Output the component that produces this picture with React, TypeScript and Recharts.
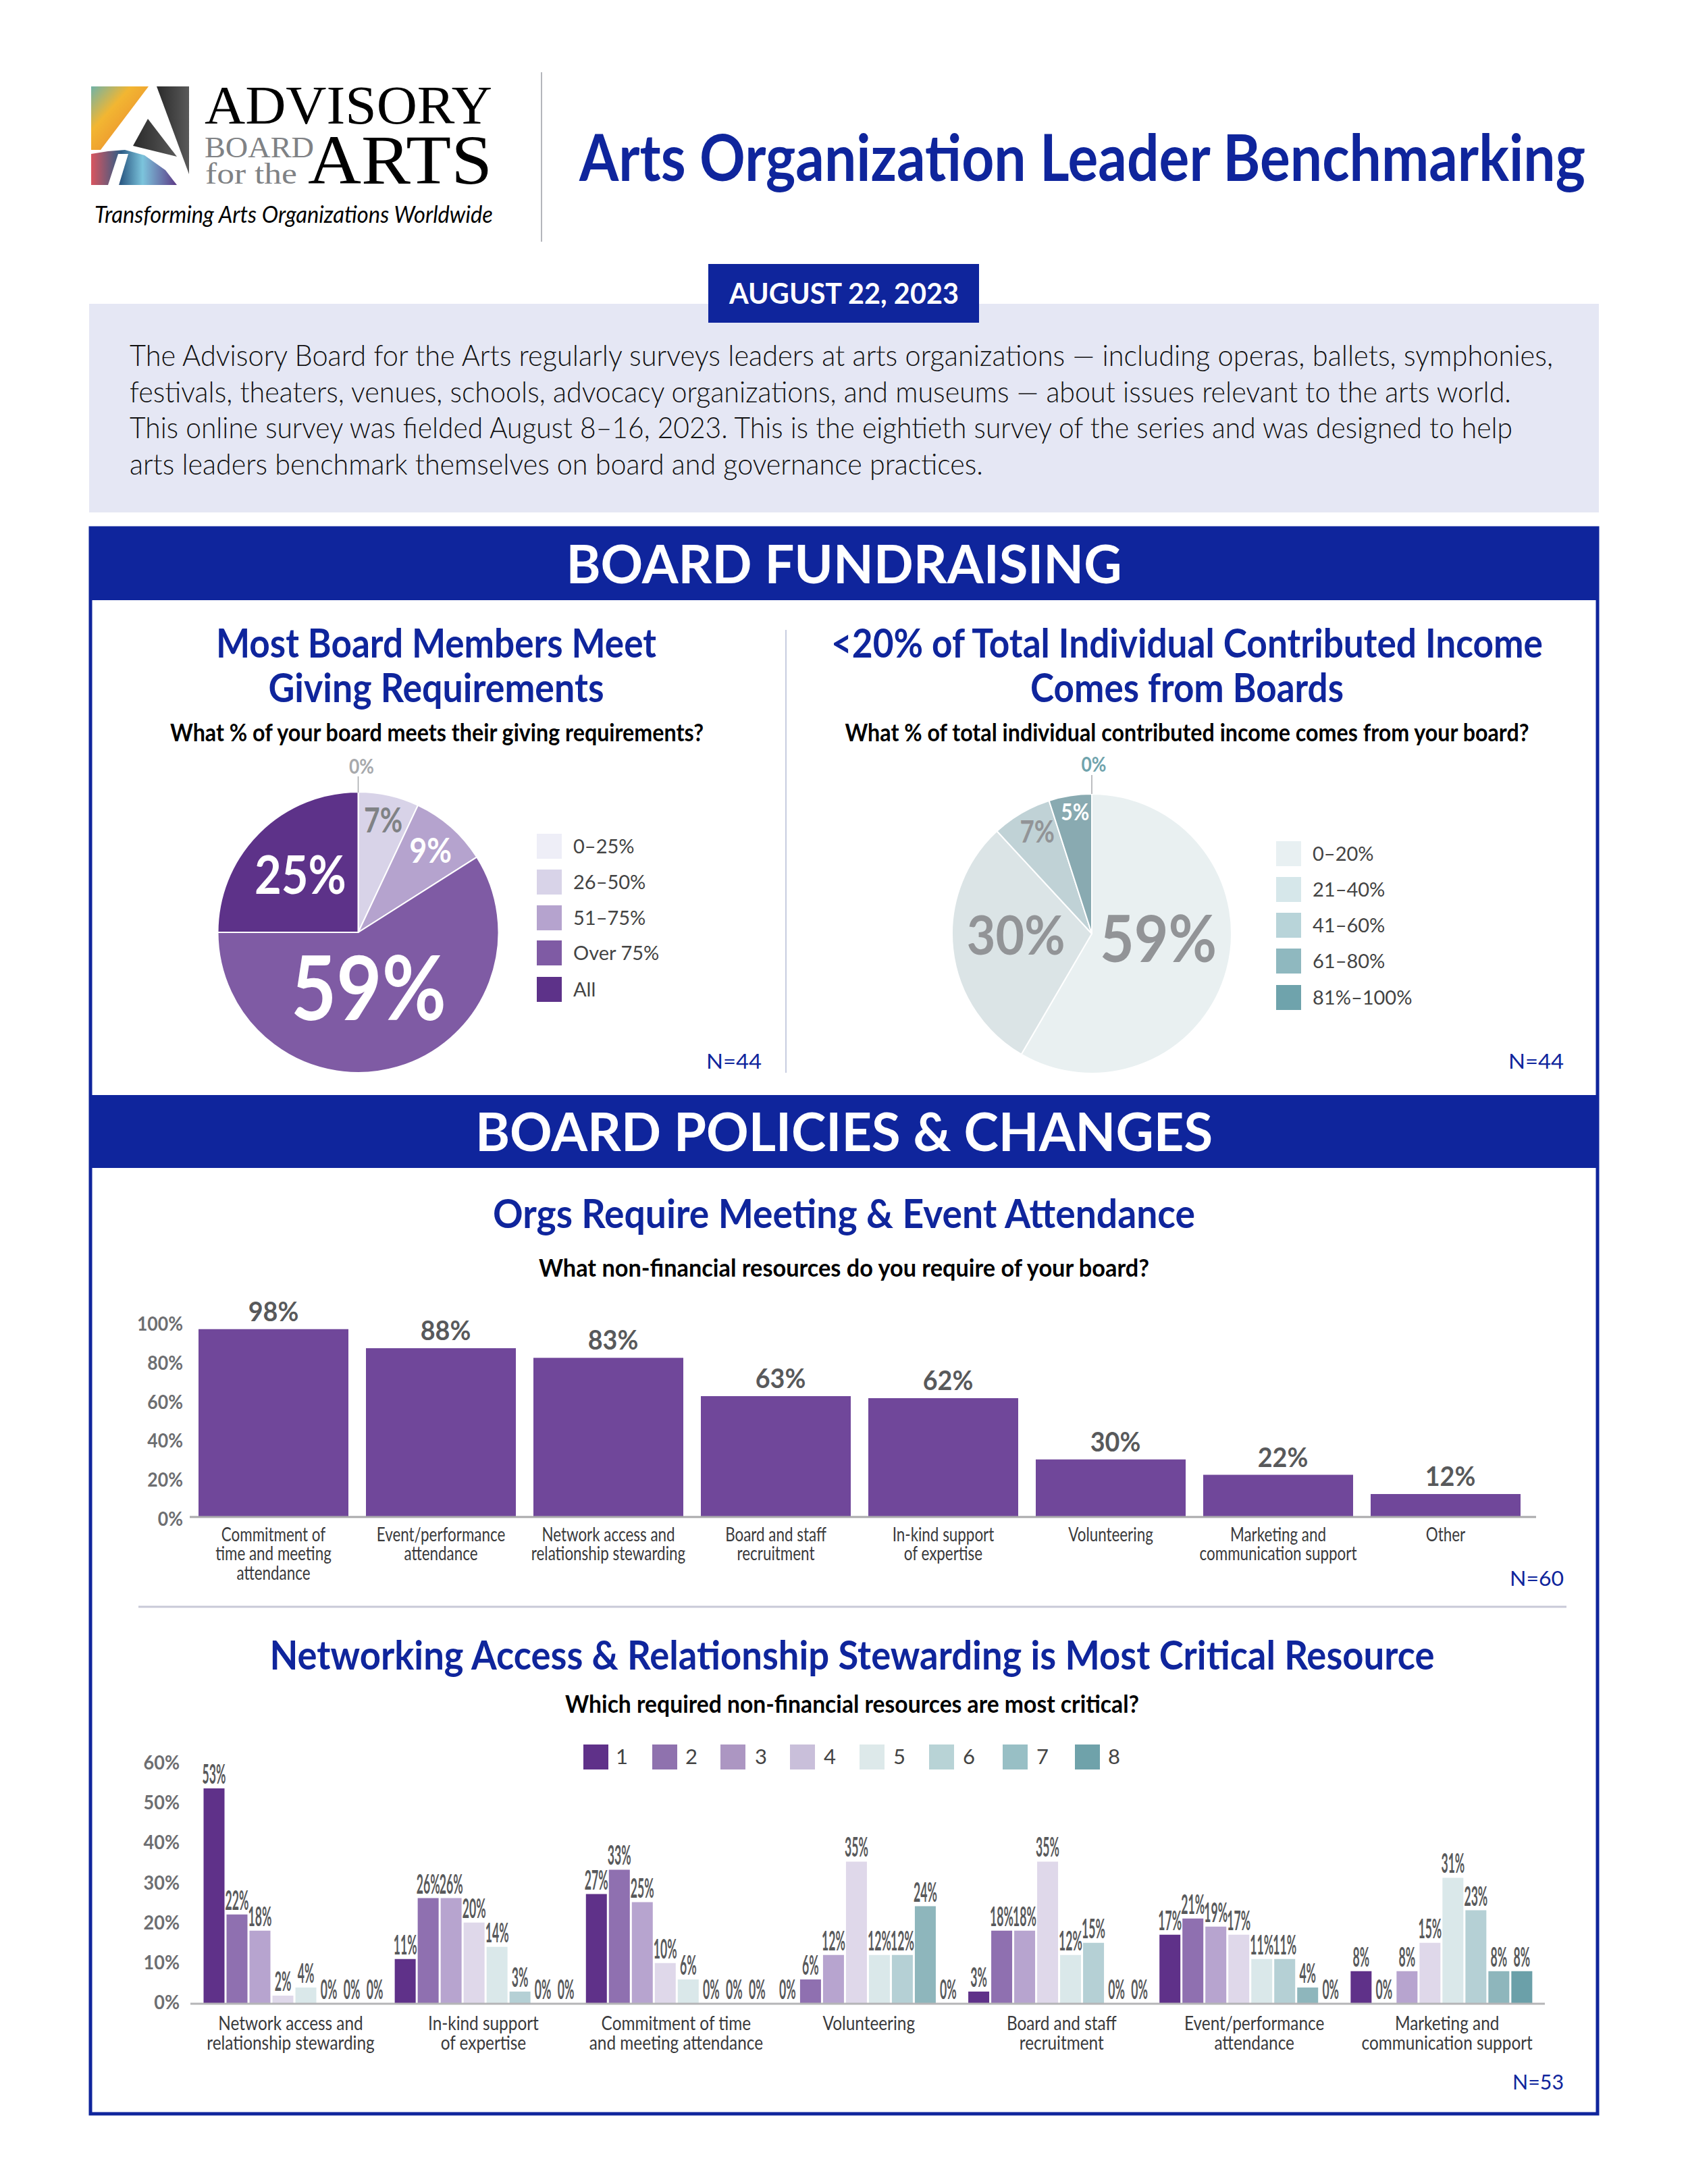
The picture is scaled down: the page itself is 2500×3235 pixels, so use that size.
import React from 'react';
import { BarChart, Bar, XAxis, YAxis, LabelList, PieChart, Pie, Cell } from 'recharts';

const NAVY = '#0f259c';
const FONT = 'Lato, "Open Sans", sans-serif';
const ZERO_BAR = 0.001; // keeps a zero-height bar's "0%" label in the label list

// ---------- data ----------
const givingLabels = ['0–25%', '26–50%', '51–75%', 'Over 75%', 'All'];
const givingValues = [0, 7, 9, 59, 25];
const givingColors = ['#eeeef7', '#d8d3e8', '#b5a3ce', '#7f5ba4', '#5d3289'];

const incomeLabels = ['0–20%', '21–40%', '41–60%', '61–80%', '81%–100%'];
const incomeValues = [59, 30, 7, 5, 0];
const incomeSliceColors = ['#e9f0f1', '#dbe4e6', '#c0d2d6', '#89aab1', '#6fa3ac'];
const incomeLegendColors = ['#e8f0f2', '#d6e7ea', '#b8d4d9', '#8fb8bf', '#6fa3ac'];

const requiredCategories = [
  'Commitment of\ntime and meeting\nattendance',
  'Event/performance\nattendance',
  'Network access and\nrelationship stewarding',
  'Board and staff\nrecruitment',
  'In-kind support\nof expertise',
  'Volunteering',
  'Marketing and\ncommunication support',
  'Other',
];
const requiredValues = [98, 88, 83, 63, 62, 30, 22, 12];
const requiredTicks = [0, 20, 40, 60, 80, 100];

const criticalCategories = [
  'Network access and\nrelationship stewarding',
  'In-kind support\nof expertise',
  'Commitment of time\nand meeting attendance',
  'Volunteering',
  'Board and staff\nrecruitment',
  'Event/performance\nattendance',
  'Marketing and\ncommunication support',
];
const rank1 = [53, 11, 27, 0, 3, 17, 8];
const rank2 = [22, 26, 33, 6, 18, 21, 0];
const rank3 = [18, 26, 25, 12, 18, 19, 8];
const rank4 = [2, 20, 10, 35, 35, 17, 15];
const rank5 = [4, 14, 6, 12, 12, 11, 31];
const rank6 = [0, 3, 0, 12, 15, 11, 23];
const rank7 = [0, 0, 0, 24, 0, 4, 8];
const rank8 = [0, 0, 0, 0, 0, 0, 8];
const ranks = [rank1, rank2, rank3, rank4, rank5, rank6, rank7, rank8];
const rankNames = ['1', '2', '3', '4', '5', '6', '7', '8'];
const rankColors = ['#5f3189', '#8f70b0', '#b7a4cf', '#dfd8ea', '#dae8ea', '#b5d0d5', '#8eb6bc', '#6ba0a9'];
const rankLegendColors = ['#5f3189', '#8f72ae', '#ac96c2', '#c9bfda', '#dde9ea', '#b8d3d6', '#98bfc5', '#6fa2aa'];
const criticalTicks = [0, 10, 20, 30, 40, 50, 60];

const introLines = [
  'The Advisory Board for the Arts regularly surveys leaders at arts organizations — including operas, ballets, symphonies,',
  'festivals, theaters, venues, schools, advocacy organizations, and museums — about issues relevant to the arts world.',
  'This online survey was fielded August 8–16, 2023. This is the eightieth survey of the series and was designed to help',
  'arts leaders benchmark themselves on board and governance practices.',
];

const requiredData = requiredCategories.map((name, i) => ({ name, value: requiredValues[i] }));
const criticalData = criticalCategories.map((name, i) => {
  const row: Record<string, any> = { name };
  rankNames.forEach((r, k) => { row[r] = ranks[k][i] || ZERO_BAR; });
  return row;
});
const givingData = givingLabels.map((name, i) => ({ name, value: givingValues[i] }));
const incomeData = incomeLabels.map((name, i) => ({ name, value: incomeValues[i] }));

// ---------- text helper ----------
const T = ({ x, y, s, w = 400, c = '#000', a = 'start', f = FONT, len, it, children }: any) => (
  <text x={x} y={y} fontSize={s} fontWeight={w} fill={c} textAnchor={a} fontFamily={f}
    fontStyle={it ? 'italic' : 'normal'} textLength={len} lengthAdjust={len ? 'spacingAndGlyphs' : undefined}>
    {children}
  </text>
);

const CatTick = ({ x, y, payload, index, size, lead, sx, first, dxStep = 0, dx0 = 0 }: any) => {
  const lines = String(payload.value).split('\n');
  return (
    <g transform={`translate(${x + dx0 + dxStep * (index || 0)},${y + first})`}>
      {lines.map((l: string, i: number) => (
        <text key={i} transform={`translate(0,${i * lead}) scale(${sx},1)`} textAnchor="middle"
          fontFamily={FONT} fontSize={size} fontWeight={400} fill="#3a3a3c">{l}</text>
      ))}
    </g>
  );
};

const ValTick = ({ x, y, payload, size, sx, dy, slope = 0, right }: any) => (
  <text transform={`translate(${x - right},${y + dy + slope * payload.value}) scale(${sx},1)`} textAnchor="end"
    fontFamily={FONT} fontSize={size} fontWeight={700} fill="#6d6e71">{payload.value}%</text>
);

const BarValue = ({ x, y, width, value, size, sx, gap, dx = 0 }: any) => (
  <text transform={`translate(${x + width / 2 + dx},${y - gap}) scale(${sx},1)`} textAnchor="middle"
    fontFamily={FONT} fontSize={size} fontWeight={700} fill="#58595b">{Math.round(value)}%</text>
);

const RAD = Math.PI / 180;
const PieLabel = ({ cx, cy, midAngle, index, value, cfg }: any) => {
  const c = cfg[index];
  const px = cx + c.r * Math.cos(-midAngle * RAD) + (c.dx || 0);
  const py = cy + c.r * Math.sin(-midAngle * RAD) + (c.dy || 0);
  return (
    <g>
      {c.leader ? <line x1={cx} x2={cx} y1={cy - 207} y2={cy - c.leader} stroke="#a7a9ac" strokeWidth={1.5} /> : null}
      <text transform={`translate(${px},${py + c.s * 0.36}) scale(${c.sx || 0.88},1)`} textAnchor="middle" fontFamily={FONT}
        fontWeight={700} fontSize={c.s} fill={c.c}>{value}%</text>
    </g>
  );
};

const givingCfg = [
  { r: 246, dx: 5, s: 30, c: '#a7a9ac', leader: 231 },
  { r: 170, s: 51, c: '#808285', sx: 0.8 },
  { r: 162, s: 51, c: '#ffffff' },
  { r: 84, dx: -8, dy: 2, s: 132, c: '#ffffff' },
  { r: 121, s: 78, c: '#ffffff' },
];
const incomeCfg = [
  { r: 100, dx: 2, dy: -19, s: 96, c: '#929497', sx: 0.91 },
  { r: 113, dy: -10, s: 80, c: '#929497', sx: 0.92 },
  { r: 170, dx: 5, dy: -5, s: 46, c: '#929497', sx: 0.8 },
  { r: 179, dx: 3, dy: -3, s: 34, c: '#ffffff' },
  { r: 251, dx: 3, s: 30, c: '#6fa3ac', leader: 235 },
];

const Abs = ({ left, top, children }: any) => (
  <div style={{ position: 'absolute', left, top }}>{children}</div>
);

const Legend = ({ x, ys, labels, colors }: any) => (
  <>
    {labels.map((l: string, i: number) => (
      <g key={l}>
        <rect x={x} y={ys[i]} width={37} height={37} fill={colors[i]} />
        <T x={x + 54} y={ys[i] + 29} s={29} w={400} c="#444">{l}</T>
      </g>
    ))}
  </>
);

const Logo = () => (
  <g>
    <defs>
      <linearGradient id="lgA" x1="0" y1="0" x2="1" y2="1">
        <stop offset="0" stopColor="#6fb3a8" />
        <stop offset="0.35" stopColor="#f2b632" />
        <stop offset="1" stopColor="#e8792c" />
      </linearGradient>
      <linearGradient id="lgB" x1="0" y1="0" x2="1" y2="0">
        <stop offset="0" stopColor="#d9555f" />
        <stop offset="0.35" stopColor="#2d5c86" />
        <stop offset="0.6" stopColor="#7cc4dc" />
        <stop offset="1" stopColor="#5c3a86" />
      </linearGradient>
      <linearGradient id="lgC" x1="0" y1="0" x2="1" y2="0">
        <stop offset="0" stopColor="#2a2a2a" />
        <stop offset="1" stopColor="#5a5a5a" />
      </linearGradient>
    </defs>
    <polygon points="135,128 220,128 149,222 135,222" fill="url(#lgA)" />
    <polygon points="232,128 280,128 280,258" fill="url(#lgC)" />
    <polygon points="219,176 262,232 197,216" fill="url(#lgC)" />
    <polygon points="135,228 160,224 185,222 214,230 245,252 262,274 135,274" fill="url(#lgB)" />
    <polygon points="160,274 175,228 190,228 176,274" fill="#ffffff" />
    <T x={303} y={183} s={80} f='"Liberation Serif", serif' len={426}>ADVISORY</T>
    <T x={303} y={233} s={44} c="#808285" f='"Liberation Serif", serif' len={162}>BOARD</T>
    <T x={304} y={272} s={44} c="#808285" f='"Liberation Serif", serif' len={136}>for the</T>
    <T x={456} y={272} s={104} f='"Liberation Serif", serif' len={273}>ARTS</T>
    <T x={140} y={330} s={34} w={400} it len={590}>Transforming Arts Organizations Worldwide</T>
  </g>
);

export default function App() {
  return (
    <div style={{ position: 'absolute', left: 0, top: 0, width: 2500, height: 3235, background: '#fff', overflow: 'hidden' }}>
      <svg width={2500} height={3235} style={{ position: 'absolute', left: 0, top: 0 }}>
        <Logo />
        <line x1={802} x2={802} y1={107} y2={358} stroke="#b4b6bc" strokeWidth={2} />
        <T x={858} y={268} s={96} w={700} c={NAVY} len={1490}>Arts Organization Leader Benchmarking</T>

        <rect x={132} y={450} width={2236} height={309} fill="#e5e7f4" />
        <rect x={1049} y={391} width={401} height={87} fill={NAVY} />
        <T x={1250} y={450} s={42} w={700} c="#fff" a="middle" len={340}>AUGUST 22, 2023</T>
        {introLines.map((l, i) => (
          <T key={i} x={192} y={542 + i * 53.5} s={44} w={300} c="#111" len={[2108, 2046, 2048, 1264][i]}>{l}</T>
        ))}

        <rect x={134} y={782} width={2232} height={2349} fill="none" stroke={NAVY} strokeWidth={5} />
        <rect x={132} y={780} width={2236} height={109} fill={NAVY} />
        <T x={1250} y={864} s={78} w={700} c="#fff" a="middle" len={823}>BOARD FUNDRAISING</T>
        <rect x={132} y={1622} width={2236} height={108} fill={NAVY} />
        <T x={1250} y={1705} s={78} w={700} c="#fff" a="middle" len={1092}>BOARD POLICIES &amp; CHANGES</T>

        <line x1={1164} x2={1164} y1={933} y2={1589} stroke="#c8cde0" strokeWidth={2} />

        <T x={646} y={974} s={60} w={700} c={NAVY} a="middle" len={652}>Most Board Members Meet</T>
        <T x={646} y={1040} s={60} w={700} c={NAVY} a="middle" len={497}>Giving Requirements</T>
        <T x={647} y={1098} s={36} w={700} a="middle" len={790}>What % of your board meets their giving requirements?</T>
        <T x={1758} y={974} s={60} w={700} c={NAVY} a="middle" len={1054}>&lt;20% of Total Individual Contributed Income</T>
        <T x={1758} y={1040} s={60} w={700} c={NAVY} a="middle" len={464}>Comes from Boards</T>
        <T x={1758} y={1098} s={36} w={700} a="middle" len={1013}>What % of total individual contributed income comes from your board?</T>

        <Legend x={795} ys={[1235, 1288, 1341, 1393, 1447]} labels={givingLabels} colors={givingColors} />
        <Legend x={1890} ys={[1246, 1299, 1352, 1405, 1459]} labels={incomeLabels} colors={incomeLegendColors} />
        <T x={1128} y={1583} s={30} c={NAVY} a="end" len={82}>N=44</T>
        <T x={2316} y={1583} s={30} c={NAVY} a="end" len={82}>N=44</T>

        <T x={1250} y={1819} s={60} w={700} c={NAVY} a="middle" len={1040}>Orgs Require Meeting &amp; Event Attendance</T>
        <T x={1250} y={1891} s={36} w={700} a="middle" len={904}>What non-financial resources do you require of your board?</T>
        <T x={2316} y={2349} s={30} c={NAVY} a="end" len={80}>N=60</T>
        <line x1={205} x2={2320} y1={2380} y2={2380} stroke="#c9cad8" strokeWidth={3} />

        <T x={1262} y={2473} s={60} w={700} c={NAVY} a="middle" len={1725}>Networking Access &amp; Relationship Stewarding is Most Critical Resource</T>
        <T x={1262} y={2537} s={36} w={700} a="middle" len={850}>Which required non-financial resources are most critical?</T>
        {rankNames.map((r, i) => (
          <g key={r}>
            <rect x={[864, 966, 1067, 1170, 1273, 1376, 1485, 1592][i]} y={2584} width={37} height={37} fill={rankLegendColors[i]} />
            <T x={[912, 1015, 1118, 1220, 1323, 1426, 1535, 1641][i]} y={2613} s={31} c="#444">{r}</T>
          </g>
        ))}
        <T x={2316} y={3095} s={30} c={NAVY} a="end" len={76}>N=53</T>
      </svg>

      <Abs left={300} top={1100}>
        <PieChart width={800} height={520} margin={{ top: 0, right: 0, bottom: 0, left: 0 }}>
          <Pie data={givingData} dataKey="value" nameKey="name" cx={230.5} cy={281} outerRadius={208} innerRadius={0}
            startAngle={90} endAngle={-270} stroke="#fff" strokeWidth={2} isAnimationActive={false}
            labelLine={false} label={(p: any) => <PieLabel {...p} cfg={givingCfg} />}>
            {givingData.map((d, i) => <Cell key={d.name} fill={givingColors[i]} />)}
          </Pie>
        </PieChart>
      </Abs>

      <Abs left={1300} top={1100}>
        <PieChart width={800} height={520} margin={{ top: 0, right: 0, bottom: 0, left: 0 }}>
          <Pie data={incomeData} dataKey="value" nameKey="name" cx={317} cy={283} outerRadius={207} innerRadius={0}
            startAngle={90} endAngle={-270} stroke="#fff" strokeWidth={2} isAnimationActive={false}
            labelLine={false} label={(p: any) => <PieLabel {...p} cfg={incomeCfg} />}>
            {incomeData.map((d, i) => <Cell key={d.name} fill={incomeSliceColors[i]} />)}
          </Pie>
        </PieChart>
      </Abs>

      <Abs left={180} top={1900}>
        <BarChart width={2095} height={470} data={requiredData} barSize={222}
          margin={{ top: 63, right: 0, bottom: 0, left: 0 }}>
          <XAxis dataKey="name" interval={0} padding={{ left: 0, right: 10 }} tickLine={false} tickSize={0} tickMargin={0}
            height={123} axisLine={{ stroke: '#a9a9ab', strokeWidth: 3 }}
            tick={(p: any) => <CatTick {...p} size={28} lead={28.4} sx={0.8} first={36} />} />
          <YAxis type="number" domain={[0, 100]} ticks={requiredTicks} width={101} tickLine={false} tickSize={0} tickMargin={0}
            axisLine={false} tick={(p: any) => <ValTick {...p} size={28} sx={0.95} dy={13} slope={-0.05} right={10} />} />
          <Bar dataKey="value" fill="#70479a" isAnimationActive={false}>
            <LabelList dataKey="value" content={(p: any) => <BarValue {...p} size={41} sx={0.92} gap={12} dx={p.index === 0 ? 0 : 7} />} />
          </Bar>
        </BarChart>
      </Abs>

      <Abs left={180} top={2560}>
        <BarChart width={2108} height={540} data={criticalData} barSize={31} barGap={3}
          margin={{ top: 47, right: 0, bottom: 0, left: 0 }}>
          <XAxis dataKey="name" interval={0} padding={{ left: 12.5, right: 11.5 }} tickLine={false} tickSize={0} tickMargin={0}
            height={132} axisLine={{ stroke: '#b5b5b7', strokeWidth: 3 }}
            tick={(p: any) => <CatTick {...p} size={28} lead={28.6} sx={0.87} first={39} dx0={-5.6} dxStep={2.3} />} />
          <YAxis type="number" domain={[0, 60]} ticks={criticalTicks} width={102} tickLine={false} tickSize={0} tickMargin={0}
            axisLine={false} tick={(p: any) => <ValTick {...p} size={29} sx={0.93} dy={8} slope={0.1} right={16} />} />
          {rankNames.map((r, i) => (
            <Bar key={r} dataKey={r} fill={rankColors[i]} isAnimationActive={false}>
              <LabelList dataKey={r} content={(p: any) => <BarValue {...p} size={41} sx={0.43} gap={7} />} />
            </Bar>
          ))}
        </BarChart>
      </Abs>
    </div>
  );
}
